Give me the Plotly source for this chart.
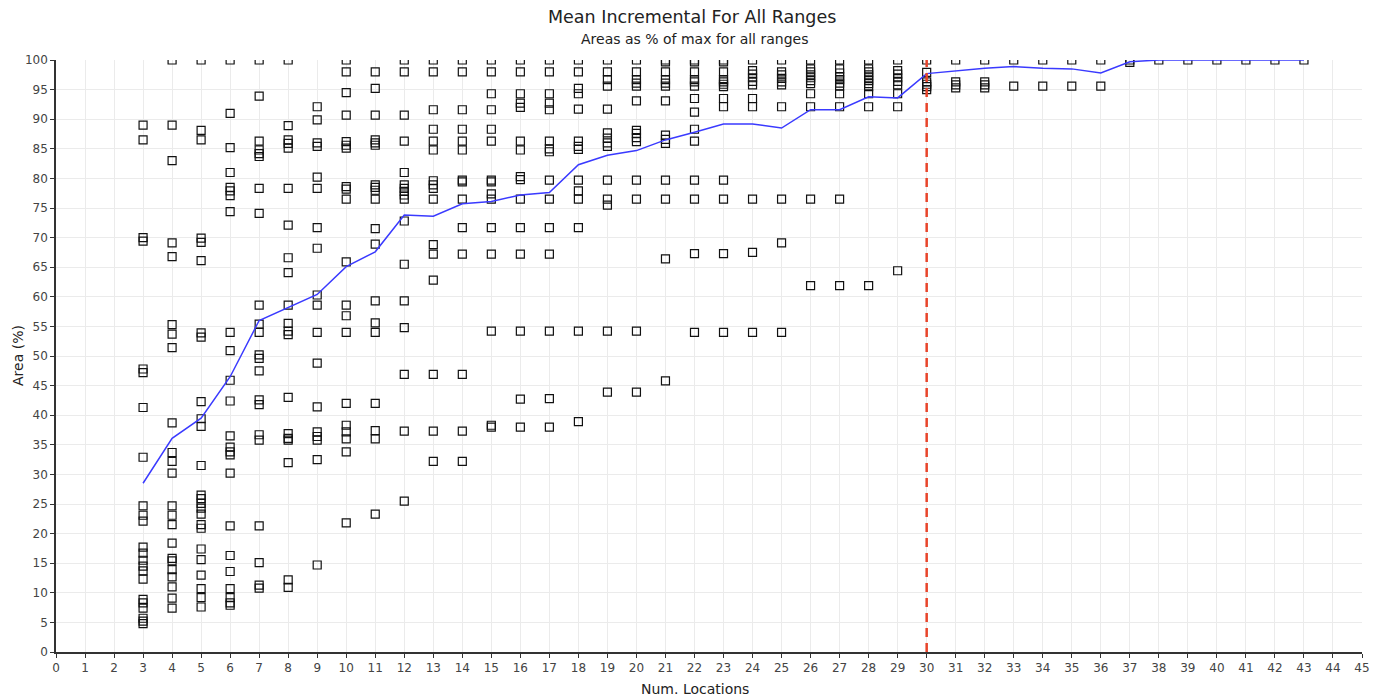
import plotly.graph_objects as go

# Scatter values per number of locations (Area as % of max)
area_by_locations = {
    3: [89, 86.5, 70, 69.4, 47.8, 47.2, 41.3, 32.9, 24.7, 23.1, 22.1, 17.7, 16.7, 15.5, 14.5, 13.7, 12.3, 8.9, 8.3, 7.4, 5.7, 5.2, 4.8],
    4: [100, 89, 83, 69.1, 66.8, 55.3, 53.7, 51.4, 38.7, 33.7, 32.2, 30.2, 24.7, 23.1, 21.5, 18.4, 15.8, 15.4, 13.9, 12.7, 11.0, 9.1, 7.4],
    5: [100, 88.1, 86.5, 69.9, 69.2, 66.1, 53.9, 53.2, 42.3, 39.4, 38.1, 31.5, 26.5, 25.9, 25.1, 24.3, 23.3, 21.5, 20.9, 17.4, 15.6, 13.0, 10.7, 9.2, 7.6],
    6: [100, 91.0, 85.2, 81.0, 78.5, 77.9, 77.1, 74.4, 54.0, 50.9, 45.9, 42.4, 36.5, 34.6, 33.8, 33.3, 30.2, 21.3, 16.3, 13.6, 10.7, 9.2, 8.3, 7.9],
    7: [100, 93.9, 86.3, 84.8, 84.2, 83.7, 78.3, 74.1, 58.6, 55.4, 54.0, 50.2, 49.6, 47.5, 42.6, 41.8, 36.7, 35.8, 21.3, 15.1, 11.3, 10.8],
    8: [100, 88.9, 86.5, 85.9, 85.1, 78.3, 72.1, 66.6, 64.1, 58.6, 55.5, 54.2, 53.6, 43.0, 36.9, 36.1, 35.8, 32.0, 12.2, 10.9],
    9: [92.1, 89.9, 86.0, 85.4, 80.2, 78.3, 71.7, 68.2, 60.3, 58.6, 54.0, 48.8, 41.4, 37.2, 36.4, 35.8, 32.5, 14.7],
    10: [100, 98.0, 94.5, 90.7, 86.2, 85.6, 85.1, 78.6, 78.2, 76.5, 65.9, 58.6, 56.8, 54.0, 42.0, 38.3, 37.2, 36.0, 33.8, 21.8],
    11: [98.0, 95.2, 90.7, 86.5, 86.0, 85.6, 78.9, 78.5, 78.0, 76.5, 71.5, 68.9, 59.3, 55.6, 54.0, 42.0, 37.4, 36.0, 23.3],
    12: [100, 98, 90.7, 86.3, 81.0, 78.9, 78.3, 77.8, 77.2, 76.5, 72.8, 65.5, 59.3, 54.8, 46.9, 37.3, 25.5],
    13: [100, 98, 91.6, 88.3, 86.3, 84.8, 79.6, 78.9, 78.3, 76.5, 68.8, 67.2, 62.8, 46.9, 37.3, 32.2],
    14: [100, 98, 91.6, 88.3, 86.3, 84.8, 79.7, 79.4, 76.5, 71.7, 67.2, 46.9, 37.3, 32.2],
    15: [100, 98, 94.3, 91.6, 88.3, 86.3, 79.7, 79.4, 77.4, 76.5, 71.7, 67.2, 54.2, 38.3, 38.0],
    16: [100, 98, 94.3, 92.7, 92.0, 86.3, 84.8, 80.3, 79.8, 76.5, 71.7, 67.2, 54.2, 42.7, 38.0],
    17: [100, 98, 94.3, 92.7, 91.6, 86.3, 85.0, 84.5, 79.7, 76.5, 71.7, 67.2, 54.2, 42.8, 38.0],
    18: [100, 98, 95.2, 94.3, 91.7, 86.3, 85.4, 84.9, 79.7, 77.9, 76.5, 71.7, 54.2, 38.9],
    19: [100, 98, 96.7, 95.6, 91.7, 87.7, 86.8, 86.0, 85.4, 79.7, 76.5, 75.5, 54.2, 43.9],
    20: [100, 98, 96.7, 96.1, 95.6, 93.1, 88.1, 87.6, 86.9, 86.2, 79.7, 76.5, 54.2, 43.9],
    21: [100, 99.7, 98, 96.7, 96.1, 95.6, 93.1, 87.3, 86.6, 85.9, 79.7, 76.5, 66.4, 45.8],
    22: [100, 99.7, 98, 96.7, 96.3, 95.6, 93.5, 91.2, 88.3, 86.3, 79.7, 76.5, 67.3, 54.0],
    23: [100, 99.7, 98, 96.7, 96.3, 95.9, 95.5, 93.5, 92.1, 79.7, 76.5, 67.3, 54.0],
    24: [100, 98.2, 97.6, 97.0, 96.4, 95.8, 93.5, 92.1, 76.5, 67.5, 54.0],
    25: [100, 98.0, 97.5, 96.9, 96.3, 95.8, 92.1, 76.5, 69.1, 54.0],
    26: [100, 98.5, 98.0, 97.5, 97.0, 96.5, 96.0, 94.3, 92.1, 76.5, 61.9],
    27: [100, 98.5, 97.8, 97.2, 96.7, 96.1, 95.6, 94.3, 92.1, 76.5, 61.9],
    28: [100, 98.5, 98.0, 97.5, 97.0, 96.5, 96.0, 95.5, 94.3, 92.1, 61.9],
    29: [100, 98.2, 97.6, 97.0, 96.4, 95.8, 94.3, 92.1, 64.4],
    30: [100, 97.9, 96.3, 95.9, 95.5, 95.0],
    31: [100, 96.3, 95.8, 95.3],
    32: [100, 96.3, 95.8, 95.3],
    33: [100, 95.6],
    34: [100, 95.6],
    35: [100, 95.6],
    36: [100, 95.6],
    37: [100, 99.6],
    38: [100],
    39: [100],
    40: [100],
    41: [100],
    42: [100],
    43: [100],
}

mean_x = list(range(3, 44))
mean_y = [28.5, 36.1, 39.5, 46.5, 56.0, 58.2, 60.4, 65.1, 67.6, 73.8, 73.6, 75.7, 76.1, 77.2,
          77.6, 82.3, 83.9, 84.7, 86.5, 87.8, 89.2, 89.2, 88.5, 91.6, 91.6, 93.8, 93.6, 97.7,
          98.2, 98.6, 98.9, 98.6, 98.5, 97.8, 99.7, 100, 100, 100, 100, 100, 100]

cutoff_x = 30
x_ticks = list(range(0, 46))
y_ticks = list(range(0, 101, 5))

pts_x, pts_y = [], []
for k, vals in area_by_locations.items():
    for v in vals:
        pts_x.append(k)
        pts_y.append(v)

FONT = "DejaVu Sans, Verdana, sans-serif"
OFF = 8  # page body margin offset
W, H = 1384 - OFF, 700 - OFF
ML, MT = 56 - OFF, 60 - OFF
plot_w = 1362 - 56
plot_h = 652 - 60
MR = W - ML - plot_w
MB = H - MT - plot_h


def px_x(sx):
    return (sx - OFF - ML) / plot_w


def px_y(sy):
    return 1 - (sy - OFF - MT) / plot_h


fig = go.Figure()
fig.add_trace(go.Scatter(
    x=pts_x, y=pts_y, mode="markers",
    marker=dict(symbol="square-open", size=8, color="#111111", line=dict(width=1.2, color="#111111")),
    showlegend=False, hoverinfo="x+y",
))
fig.add_trace(go.Scatter(
    x=mean_x, y=mean_y, mode="lines",
    line=dict(color="#3a3aff", width=1.5),
    showlegend=False,
))
fig.add_trace(go.Scatter(
    x=[cutoff_x, cutoff_x], y=[0, 100], mode="lines",
    line=dict(color="#e8442a", width=2.5, dash="9px,6px"),
    showlegend=False, hoverinfo="skip",
))

fig.update_layout(
    width=W, height=H,
    margin=dict(l=ML, r=MR, t=MT, b=MB, autoexpand=False),
    paper_bgcolor="white", plot_bgcolor="white",
    font=dict(family=FONT, size=12, color="#333333"),
    annotations=[
        dict(text="Mean Incremental For All Ranges", x=px_x(692), y=px_y(17),
             xref="paper", yref="paper", xanchor="center", yanchor="middle",
             showarrow=False, font=dict(size=17.5, color="#222222", family=FONT)),
        dict(text="Areas as % of max for all ranges", x=px_x(694), y=px_y(39),
             xref="paper", yref="paper", xanchor="center", yanchor="middle",
             showarrow=False, font=dict(size=14, color="#222222", family=FONT)),
        dict(text="Num. Locations", x=px_x(695), y=px_y(689),
             xref="paper", yref="paper", xanchor="center", yanchor="middle",
             showarrow=False, font=dict(size=14, color="#222222", family=FONT)),
        dict(text="Area (%)", x=px_x(18), y=px_y(356), xref="paper", yref="paper",
             xanchor="center", yanchor="middle", textangle=-90,
             showarrow=False, font=dict(size=14, color="#222222", family=FONT)),
    ],
)

fig.update_xaxes(
    range=[0, 45], tickmode="array", tickvals=x_ticks, ticktext=[str(t) for t in x_ticks],
    showgrid=True, gridcolor="#ebebeb", gridwidth=1, zeroline=False, automargin=False,
    showline=True, linecolor="#333333", linewidth=1.5,
    ticks="outside", ticklen=4, tickcolor="#333333",
    tickfont=dict(size=12, color="#444444"),
)
fig.update_yaxes(
    range=[0, 100], tickmode="array", tickvals=y_ticks, ticktext=[str(t) for t in y_ticks],
    showgrid=True, gridcolor="#ebebeb", gridwidth=1, zeroline=False, automargin=False,
    showline=True, linecolor="#333333", linewidth=1.5,
    ticks="outside", ticklen=4, tickcolor="#333333",
    tickfont=dict(size=12, color="#444444"),
)

fig.write_html("out.html")
